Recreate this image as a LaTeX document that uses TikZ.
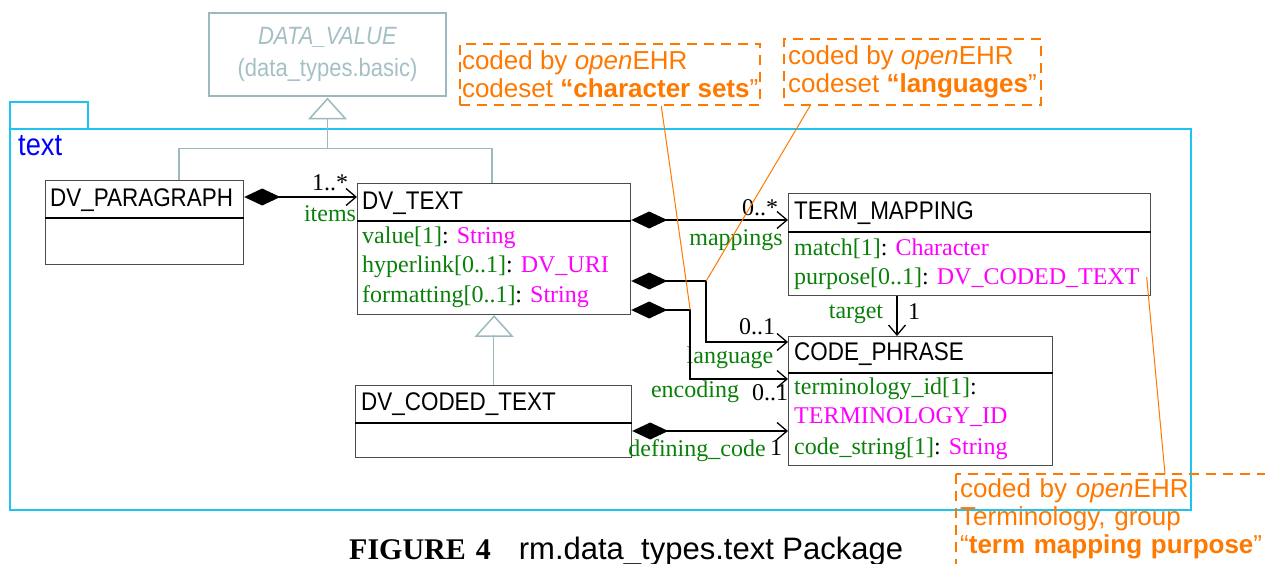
\documentclass[tikz,border=0pt]{standalone}
\usepackage{fontspec}
\setmainfont{Liberation Serif}
\setsansfont{Liberation Sans}
\newfontfamily\narrowsans[FakeStretch=0.88]{Liberation Sans}
\usepackage{xcolor}
\usepackage{tikz}
\usetikzlibrary{arrows.meta,calc,positioning}

\definecolor{pkgcyan}{RGB}{30,195,240}
\definecolor{genteal}{RGB}{155,185,190}
\definecolor{attrgreen}{RGB}{10,128,10}
\definecolor{typemag}{RGB}{255,0,255}
\definecolor{noteorange}{RGB}{255,120,0}

\newcommand{\attrtype}[2]{#1\textcolor{black}{:} \textcolor{typemag}{#2}}

\tikzset{
  classbox/.style={draw=black!70, line width=1.2pt, anchor=north west, inner sep=0pt},
  divider/.style={black, line width=1.2pt},
  classname/.style={font=\narrowsans\fontsize{25.5}{30}\selectfont, anchor=base west, inner sep=0pt},
  attr/.style={font=\fontsize{24}{28}\selectfont, text=attrgreen, anchor=base west, inner sep=0pt},
  role/.style={font=\fontsize{24}{28}\selectfont, text=attrgreen, inner sep=0pt},
  mult/.style={font=\fontsize{24}{28}\selectfont, inner sep=0pt},
  comp/.style={line width=2pt, arrows={Diamond[length=36pt,width=17pt]-Straight Barb[length=10pt,width=17pt,line width=1.3pt]}},
  assoc/.style={line width=2pt, arrows={-Straight Barb[length=10pt,width=17pt,line width=1.3pt]}},
  gen/.style={genteal, line width=1.5pt},
  pkg/.style={draw=pkgcyan, line width=2pt},
  note/.style={font=\sffamily\fontsize{26}{28}\selectfont, text=noteorange, align=left, inner sep=4pt},
  notebox/.style={draw=noteorange, line width=2pt, dash pattern=on 10pt off 7pt},
  noteline/.style={noteorange, line width=1pt}
}

\begin{document}
\begin{tikzpicture}[x=1pt,y=-1pt]
    \useasboundingbox (0,0) rectangle (1265,564);
    \clip (0,0) rectangle (1265,564);

    % package frame
    \draw[pkg] (10,102) rectangle (88,129);
    \draw[pkg] (10,129) rectangle (1191,510);
    \node[anchor=base west, inner sep=0pt, text=blue, font=\narrowsans\fontsize{31}{32}\selectfont] (pkgname) at (18,156) {text};

    % parent class from data_types.basic
    \node[draw=genteal, line width=1.5pt, minimum width=237pt, minimum height=83pt, text=genteal!90, align=center,
          font=\narrowsans\fontsize{25}{32}\selectfont] (dv) at (327.5,54.5) {\textit{DATA\_VALUE}\\(data\_types.basic)};

    % classes
    \node[classbox, minimum width=198pt, minimum height=84pt] (para) at (45,180) {};
    \draw[divider] ([yshift=-38pt]para.north west) -- ([yshift=-38pt]para.north east);
    \node[classname] (paraname) at ([shift={(5,26)}]para.north west) {DV\_PARAGRAPH};

    \node[classbox, minimum width=273pt, minimum height=131pt] (text) at (357,183) {};
    \draw[divider] ([yshift=-38pt]text.north west) -- ([yshift=-38pt]text.north east);
    \node[classname] (textname) at ([shift={(5,26)}]text.north west) {DV\_TEXT};
    \node[attr] (tval) at ([shift={(5,60)}]text.north west) {\attrtype{value[1]}{String}};
    \node[attr] (tlink) at ([shift={(5,89)}]text.north west) {\attrtype{hyperlink[0..1]}{DV\_URI}};
    \node[attr] (tform) at ([shift={(5,119)}]text.north west) {\attrtype{formatting[0..1]}{String}};

    \node[classbox, minimum width=362pt, minimum height=102pt] (tm) at (788,193) {};
    \draw[divider] ([yshift=-39pt]tm.north west) -- ([yshift=-39pt]tm.north east);
    \node[classname] (tmname) at ([shift={(6,26)}]tm.north west) {TERM\_MAPPING};
    \node[attr] (tmmatch) at ([shift={(6,62)}]tm.north west) {\attrtype{match[1]}{Character}};
    \node[attr] (tmpurp) at ([shift={(6,91)}]tm.north west) {\attrtype{purpose[0..1]}{DV\_CODED\_TEXT}};

    \node[classbox, minimum width=264pt, minimum height=129pt] (cp) at (788,336) {};
    \draw[divider] ([yshift=-37pt]cp.north west) -- ([yshift=-37pt]cp.north east);
    \node[classname] (cpname) at ([shift={(6,24)}]cp.north west) {CODE\_PHRASE};
    \node[attr] (cpterm) at ([shift={(6,58)}]cp.north west) {terminology\_id[1]\textcolor{black}{:}};
    \node[attr, text=typemag] (cptermtype) at ([shift={(6,87)}]cp.north west) {TERMINOLOGY\_ID};
    \node[attr] (cpcode) at ([shift={(6,118)}]cp.north west) {\attrtype{code\_string[1]}{String}};

    \node[classbox, minimum width=276pt, minimum height=72pt] (ct) at (355,385) {};
    \draw[divider] ([yshift=-38pt]ct.north west) -- ([yshift=-38pt]ct.north east);
    \node[classname] (ctname) at ([shift={(6,25)}]ct.north west) {DV\_CODED\_TEXT};

    % inheritance
    \draw[gen] ([yshift=-2pt]dv.south) -- ++(-18,20) -- ++(36,0) -- cycle;
    \draw[gen] ([yshift=-22pt]dv.south) -- ++(0,30) coordinate (genjoin);
    \draw[gen] ([xshift=134pt]para.north west) |- (genjoin) -| ([xshift=135pt]text.north west);
    \draw[gen] ([yshift=-1pt]text.south) -- ++(-18,20) -- ++(36,0) -- cycle;
    \draw[gen] (ct.north) -- ++(0,-50);

    % compositions
    \draw[comp] ([yshift=-17pt]para.north east) -- ([yshift=-14pt]text.north west);
    \node[mult] (m-items) at (330,183) {1..*};
    \node[role] (r-items) at (330,214) {items};

    \draw[comp] ([yshift=-37pt]text.north east) -- ([yshift=-27pt]tm.north west);
    \node[mult] (m-map) at (760,208) {0..*};
    \node[role] (r-map) at (736,240) {mappings};

    \draw[comp] ([yshift=-98pt]text.north east) -- ++(75,0) coordinate (langbend) |- ([yshift=-6pt]cp.north west);
    \node[mult] (m-lang) at (757,327) {0..1};
    \node[role] (r-lang) at (730,358) {language};

    \draw[comp] ([yshift=-127pt]text.north east) -- ++(59,0) coordinate (encbend) |- ([yshift=-43pt]cp.north west);
    \node[role] (r-enc) at (695,392) {encoding};
    \node[mult] (m-enc) at (770,393) {0..1};

    \draw[assoc] ([xshift=109pt]tm.south west) coordinate (tgt) -- (tgt |- cp.north);
    \node[role] (r-tgt) at (856,314) {target};
    \node[mult] (m-tgt) at (914,312) {1};

    \draw[comp] ([yshift=-46pt]ct.north east) -- ([yshift=-95pt]cp.north west);
    \node[role] (r-def) at (697,451) {defining\_code};
    \node[mult] (m-def) at (776,448) {1};

    % notes
    \node[note, notebox, anchor=north west, inner xsep=2pt, minimum width=299pt, minimum height=61pt] (note1) at (459,43)
        {coded by \textit{open}EHR\\codeset \textbf{“character sets}”};
    \node[note, notebox, anchor=north west, inner xsep=3pt, minimum width=257pt, minimum height=66pt] (note2) at (783,38)
        {coded by \textit{open}EHR\\codeset \textbf{“languages}”};
    \node[note, anchor=north west, text width=330pt] (note3) at (956,474)
        {coded by \textit{open}EHR\\Terminology, group\\“\textbf{term mapping purpose}”};
    \draw[notebox] (note3.north west) rectangle ++(350,120);

    \draw[noteline] ([xshift=-100pt]note1.south east) -- (encbend);
    \draw[noteline] ([xshift=27pt]note2.south west) -- (langbend);
    \draw[noteline] ([shift={(7,-7)}]tmpurp.base east) -- ([xshift=209pt]note3.north west);

    % caption
    \node[anchor=base west, inner sep=0pt, font=\fontsize{30}{32}\selectfont] (caption) at (349,559)
        {\textbf{FIGURE}\hspace{10pt}\textbf{4}\hspace{28pt}{\sffamily\fontsize{31}{32}\selectfont rm.data\_types.text Package}};
\end{tikzpicture}
\end{document}
